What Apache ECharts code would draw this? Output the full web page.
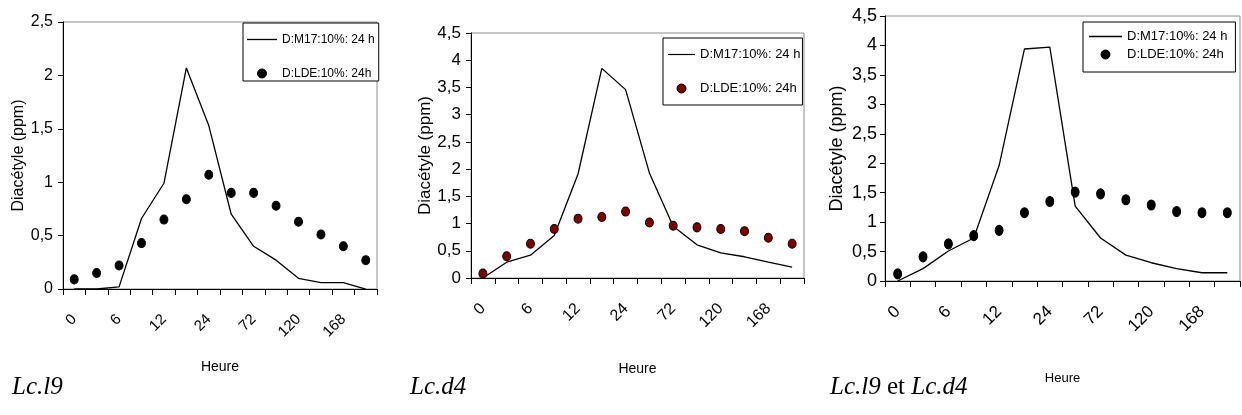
<!DOCTYPE html>
<html>
<head>
<meta charset="utf-8">
<script src="https://cdn.jsdelivr.net/npm/echarts@6/dist/echarts.min.js"></script>
<style>
  html, body { margin: 0; padding: 0; background: #fff; }
  #chart { width: 1242px; height: 415px; }
</style>
</head>
<body>
<div id="chart"></div>
<script>
// Sampling times (hours); every other one carries a label
const hours = ['0', '3', '6', '9', '12', '18', '24', '48', '72', '96', '120', '144', '168', '192'];

// Lc.l9
const l9M17 = [0, 0, 0.02, 0.66, 0.99, 2.07, 1.53, 0.70, 0.40, 0.27, 0.10, 0.06, 0.06, 0];
const l9LDE = [0.09, 0.15, 0.22, 0.43, 0.65, 0.84, 1.07, 0.90, 0.90, 0.78, 0.63, 0.51, 0.40, 0.27];

// Lc.d4
const d4M17 = [0, 0.29, 0.42, 0.78, 1.91, 3.85, 3.46, 1.93, 0.95, 0.61, 0.46, 0.39, 0.29, 0.20];
const d4LDE = [0.08, 0.40, 0.63, 0.90, 1.09, 1.12, 1.22, 1.02, 0.96, 0.93, 0.90, 0.86, 0.74, 0.63];

// Lc.l9 et Lc.d4
const mixM17 = [0, 0.21, 0.51, 0.73, 1.96, 3.94, 3.97, 1.27, 0.73, 0.44, 0.31, 0.21, 0.14, 0.14];
const mixLDE = [0.12, 0.41, 0.63, 0.77, 0.86, 1.16, 1.35, 1.51, 1.48, 1.38, 1.29, 1.18, 1.16, 1.16];

const yMax = [2.5, 4.5, 4.5];
const seriesNames = ['D:M17:10%: 24 h', 'D:LDE:10%: 24h'];
const xTitle = 'Heure';
const yTitle = 'Diacétyle (ppm)';
const captions = ['Lc.l9', 'Lc.d4', 'Lc.l9', 'et', 'Lc.d4'];

const SANS = "'Liberation Sans', Arial, sans-serif";
const SERIF = "'Liberation Serif', 'Times New Roman', serif";

// thin horizontal bar used as the legend sample of the line series
const LINE_ICON = 'path://M0,0H30V1.3H0Z';

const panels = [
  { m17: l9M17, lde: l9LDE, dot: '#000000', dotSize: [8, 9],
    grid: { left: 63, top: 22, width: 314, height: 267 },
    yFont: 16, yMargin: 10, xFont: 15, xTitleFont: 14, yTitleFont: 16, xGap: 71, yGap: 43,
    legend: { left: 243, top: 23, iw: 30, gap: 19, font: 12, pad: [9, 4, 0, 4] } },
  { m17: d4M17, lde: d4LDE, dot: '#7a0000', dotSize: [8, 9],
    grid: { left: 471, top: 33, width: 333, height: 245 },
    yFont: 17, yMargin: 10, xFont: 16, xTitleFont: 14, yTitleFont: 17, xGap: 84, yGap: 44,
    legend: { left: 663, top: 38, iw: 27, gap: 19, font: 13, pad: [9, 2, 9, 5] } },
  { m17: mixM17, lde: mixLDE, dot: '#000000', dotSize: [8, 10],
    grid: { left: 885, top: 16, width: 355, height: 265 },
    yFont: 18, yMargin: 8, xFont: 17, xTitleFont: 13, yTitleFont: 18, xGap: 91, yGap: 48,
    legend: { left: 1083, top: 22, iw: 33, gap: 3, font: 13, pad: [7, 8, 10, 6] } }
];

const grid = [], xAxis = [], yAxis = [], legend = [], series = [];

panels.forEach((p, i) => {
  grid.push(Object.assign({ show: true, borderColor: '#8c8c8c', borderWidth: 1, backgroundColor: 'transparent' }, p.grid));

  xAxis.push({
    type: 'category', gridIndex: i, data: hours, boundaryGap: true,
    name: xTitle, nameLocation: 'middle', nameGap: p.xGap,
    nameTextStyle: { fontFamily: SANS, fontSize: p.xTitleFont, color: '#000' },
    axisLine: { lineStyle: { color: '#000', width: 1 } },
    axisTick: { show: true, interval: 0, alignWithLabel: false, inside: false, length: 6, lineStyle: { color: '#000' } },
    axisLabel: { interval: 1, rotate: 45, margin: 28, fontFamily: SANS, fontSize: p.xFont, color: '#000' },
    splitLine: { show: false }
  });

  yAxis.push({
    type: 'value', gridIndex: i, min: 0, max: yMax[i], interval: 0.5,
    name: yTitle, nameLocation: 'middle', nameGap: p.yGap, nameRotate: 90,
    nameTextStyle: { fontFamily: SANS, fontSize: p.yTitleFont, color: '#000', verticalAlign: 'middle' },
    axisLine: { show: true, lineStyle: { color: '#000', width: 1 } },
    axisTick: { show: true, inside: false, length: 5, lineStyle: { color: '#000' } },
    axisLabel: { margin: p.yMargin, fontFamily: SANS, fontSize: p.yFont, color: '#000',
      formatter: v => String(v).replace('.', ',') },
    splitLine: { show: false }
  });

  legend.push({
    orient: 'vertical', left: p.legend.left, top: p.legend.top, align: 'left',
    backgroundColor: '#fff', borderColor: '#000', borderWidth: 1, borderRadius: 0,
    padding: p.legend.pad, itemGap: p.legend.gap, itemWidth: p.legend.iw, itemHeight: 9,
    selectedMode: false,
    textStyle: { fontFamily: SANS, fontSize: p.legend.font, color: '#000', lineHeight: 15 },
    data: [
      { name: seriesNames[0], icon: LINE_ICON, itemStyle: { color: '#000' } },
      { name: seriesNames[1], icon: 'circle', itemStyle: { color: p.dot, borderColor: '#000', borderWidth: 1 } }
    ]
  });

  series.push({
    name: seriesNames[0], type: 'line', xAxisIndex: i, yAxisIndex: i,
    data: p.m17, symbol: 'none', showSymbol: false,
    lineStyle: { color: '#000', width: 1.3 }, itemStyle: { color: '#000' },
    silent: true, z: 3
  });
  series.push({
    name: seriesNames[1], type: 'scatter', xAxisIndex: i, yAxisIndex: i,
    data: p.lde, symbol: 'circle', symbolSize: p.dotSize,
    itemStyle: { color: p.dot, borderColor: '#000', borderWidth: 1, opacity: 1 },
    silent: true, z: 4
  });
});

const capFont = `italic 25px ${SERIF}`;
const chart = echarts.init(document.getElementById('chart'), null, { renderer: 'canvas' });
chart.setOption({
  backgroundColor: '#fff',
  animation: false,
  grid, xAxis, yAxis, legend, series,
  graphic: [
    { type: 'text', left: 12, top: 375, style: { text: captions[0], font: capFont, fill: '#000' } },
    { type: 'text', left: 410, top: 375, style: { text: captions[1], font: capFont, fill: '#000' } },
    { type: 'text', left: 830, top: 375,
      style: {
        text: `{i|${captions[2]}}{n| ${captions[3]} }{i|${captions[4]}}`,
        rich: {
          i: { fontFamily: SERIF, fontStyle: 'italic', fontSize: 25, fill: '#000' },
          n: { fontFamily: SERIF, fontSize: 25, fill: '#000' }
        }
      } }
  ]
});
</script>
</body>
</html>
